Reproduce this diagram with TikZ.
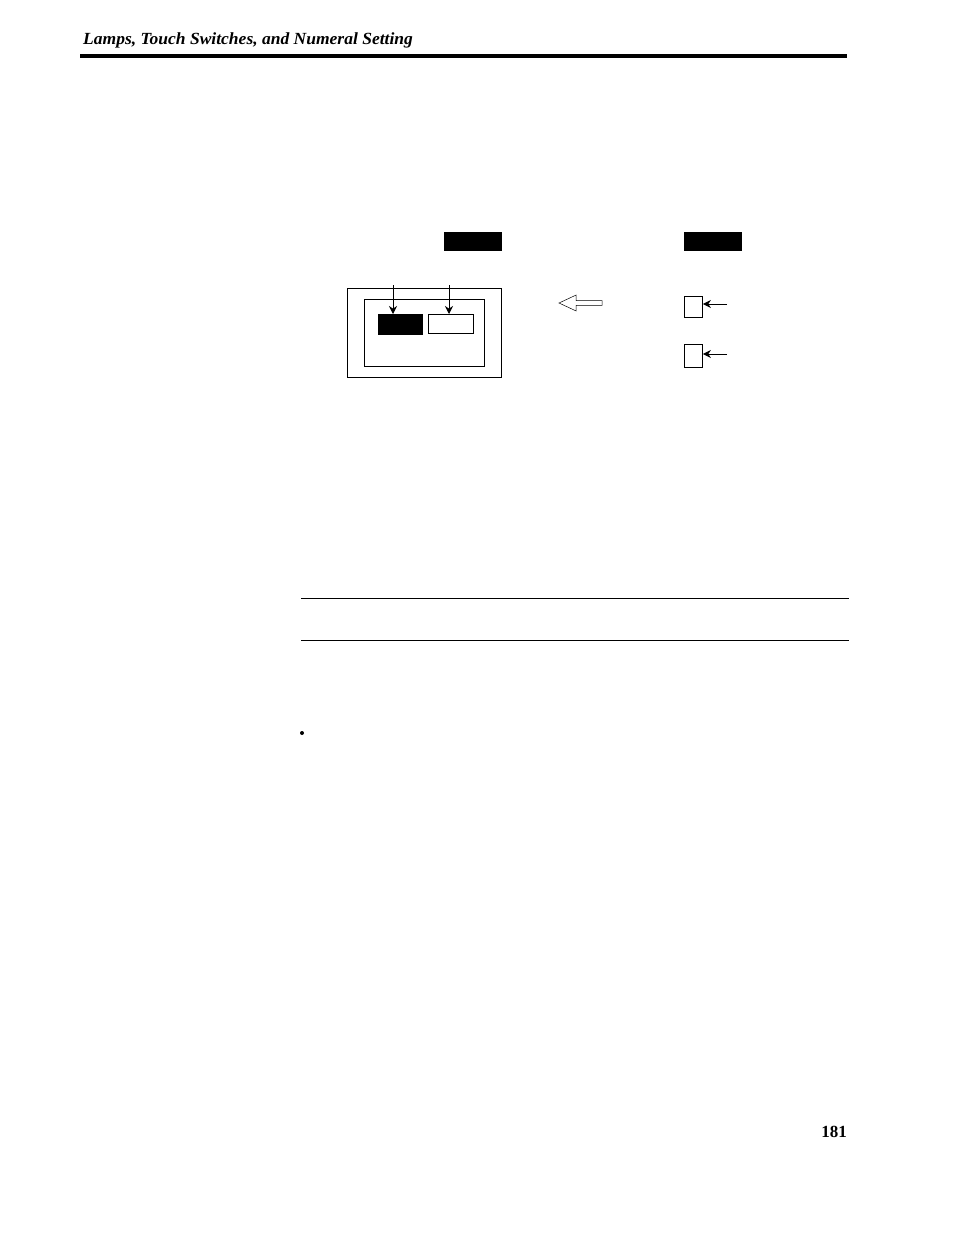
\documentclass[tikz,border=0pt]{standalone}
\usepackage{fontspec}
\setmainfont{Liberation Serif}
\usetikzlibrary{arrows.meta,shapes.arrows}
\tikzset{
  box/.style={draw, line width=.9pt, inner sep=0pt, anchor=north west},
  tag/.style={fill=black, inner sep=0pt, anchor=north west, minimum width=58pt, minimum height=19pt},
  pointer/.style={line width=.9pt, -{Stealth[length=8pt,width=8pt]}}
}
\begin{document}
\begin{tikzpicture}[x=1pt, y=-1pt]
        \useasboundingbox (0,0) rectangle (954,1235);
        % header
        \node[anchor=south west, inner sep=0pt, xscale=1.03, font=\fontsize{17}{20}\selectfont\bfseries\itshape] (title) at (83,48) {Lamps, Touch Switches, and Numeral Setting};
        \draw[line width = 4pt] (80,56) -- (847,56);
        % black tags
        \node[tag] (tagL) at (444,232) {};
        \node[tag] (tagR) at (684,232) {};
        % screen
        \node[box, minimum width=154pt, minimum height=89pt] (outer) at (347,288) {};
        \node[box, minimum width=120pt, minimum height=67pt] (inner) at (364,299) {};
        \node[box, fill=black, minimum width=44pt, minimum height=20pt] (lampOn) at (378,314) {};
        \node[box, minimum width=45pt, minimum height=19pt] (lampOff) at (428,314) {};
        \coordinate (dA) at (393,285);
        \coordinate (dB) at (449,285);
        \draw[pointer] (dA) -- (dA |- lampOn.north);
        \draw[pointer] (dB) -- (dB |- lampOff.north);
        % transfer arrow
        \node[single arrow, draw, line width=.5pt, shape border rotate=180, minimum height=43pt, minimum width=16pt, single arrow head extend=5.5pt, single arrow tip angle=50, inner sep=2pt] (move) at (583,303) {};
        % bits
        \node[box, minimum width=18pt, minimum height=21pt] (bitA) at (684,296) {};
        \node[box, minimum width=18pt, minimum height=23pt] (bitB) at (684,344) {};
        \coordinate (pA) at (727,304);
        \coordinate (pB) at (727,354);
        \draw[pointer] (pA) -- (pA -| bitA.east);
        \draw[pointer] (pB) -- (pB -| bitB.east);
        % rules
        \draw[line width = 1pt] (301,598) -- (849,598);
        \draw[line width = 1pt] (301,640) -- (849,640);
        \fill (302,733) circle (2pt);
        % page number
        \node[anchor=south east, inner sep=0pt, font=\fontsize{17}{20}\selectfont\bfseries] (page) at (847,1138) {181};
\end{tikzpicture}
\end{document}
